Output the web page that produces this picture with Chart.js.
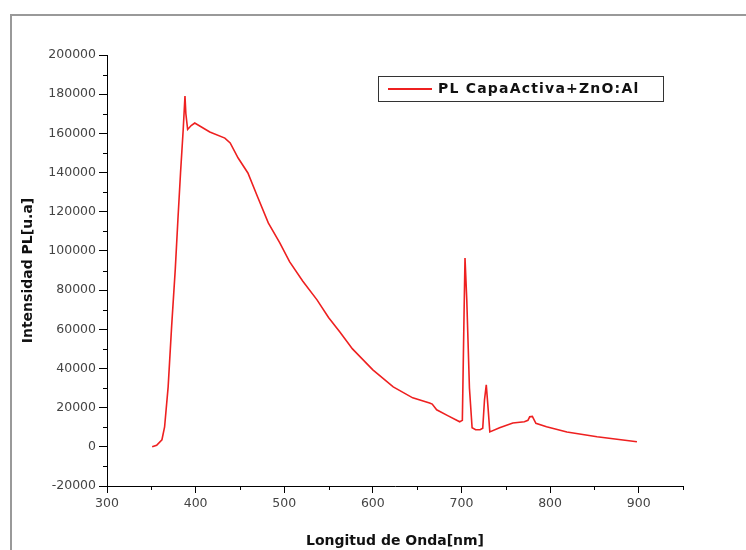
<!DOCTYPE html>
<html>
<head>
<meta charset="utf-8">
<script src="https://cdn.jsdelivr.net/npm/chart.js@4/dist/chart.umd.min.js"></script>
<style>
  html, body { margin: 0; padding: 0; background: #fff; }
  #wrap { width: 746px; height: 550px; position: relative; }
</style>
</head>
<body>
<div id="wrap"><canvas id="plChart"></canvas></div>
<script>
// Spectrum
const wavelengths = [351, 356, 362, 365, 369, 373, 377, 380, 383, 386, 388, 389, 391, 395, 399, 416, 433, 439, 448, 459,
  470, 482, 495, 506, 521, 537, 550, 563, 577, 600, 623, 645, 664, 667, 672, 685, 698, 701, 703, 704, 706, 709, 712, 716,
  721, 724, 726, 728, 730, 732, 743, 758, 771, 775, 777, 780, 784, 796, 819, 853, 898];
const intensity = [0, 800, 3600, 10200, 30600, 62000, 90300, 115800, 140000, 162000, 179000, 170000, 162000, 164000, 165300, 160700, 157600, 155100, 147400, 139800,
  127500, 114300, 104100, 94500, 84500, 75000, 66000, 58500, 50000, 39300, 30600, 25000, 22400, 21800, 18900, 15800, 12800, 13500, 70000, 96400, 75000, 30000, 9700, 8700,
  8700, 9500, 24000, 31600, 20000, 7600, 9700, 12200, 12800, 13500, 15300, 15500, 12000, 10200, 7600, 5100, 2600];
const seriesLabel = 'PL CapaActiva+ZnO:Al';
const yTicks = [-20000, 0, 20000, 40000, 60000, 80000, 100000, 120000, 140000, 160000, 180000, 200000];
const xTicks = [300, 400, 500, 600, 700, 800, 900];

const lineColor = '#ee2020';
const tickFont = { family: '"DejaVu Sans", sans-serif', size: 12.5 };
const titleFamily = '"DejaVu Sans", sans-serif';

// Outer frame, minor ticks and in-plot legend
const decorPlugin = {
  id: 'decor',
  afterDraw(chart) {
    const ctx = chart.ctx;
    const x = chart.scales.x, y = chart.scales.y;
    ctx.save();
    // grey frame
    ctx.strokeStyle = '#999';
    ctx.lineWidth = 2;
    ctx.beginPath();
    ctx.moveTo(11, 550);
    ctx.lineTo(11, 15);
    ctx.lineTo(746, 15);
    ctx.stroke();

    // minor ticks
    ctx.strokeStyle = '#000';
    ctx.lineWidth = 1;
    ctx.beginPath();
    for (let v = -10000; v < 200000; v += 20000) {
      const py = Math.round(y.getPixelForValue(v)) + 0.5;
      ctx.moveTo(x.left - 4, py);
      ctx.lineTo(x.left, py);
    }
    for (let v = 350; v <= 950; v += 100) {
      const px = Math.round(x.getPixelForValue(v)) + 0.5;
      ctx.moveTo(px, y.bottom);
      ctx.lineTo(px, y.bottom + 4);
    }
    ctx.stroke();

    // legend box
    const bx = 378, by = 76, bw = 285, bh = 25;
    ctx.fillStyle = '#fff';
    ctx.fillRect(bx, by, bw, bh);
    ctx.strokeStyle = '#333';
    ctx.lineWidth = 1;
    ctx.strokeRect(bx + 0.5, by + 0.5, bw, bh);
    ctx.strokeStyle = lineColor;
    ctx.lineWidth = 2;
    ctx.beginPath();
    ctx.moveTo(388, by + 13);
    ctx.lineTo(432, by + 13);
    ctx.stroke();
    ctx.fillStyle = '#111';
    ctx.font = 'bold 14px ' + titleFamily;
    ctx.letterSpacing = '1.2px';
    ctx.textBaseline = 'middle';
    ctx.fillText(chart.data.datasets[0].label, 438, by + 13);
    ctx.restore();
  }
};

new Chart('plChart', {
  type: 'line',
  data: {
    datasets: [{
      label: seriesLabel,
      data: wavelengths.map((w, i) => ({ x: w, y: intensity[i] })),
      borderColor: lineColor,
      borderWidth: 1.6,
      pointRadius: 0,
      tension: 0,
      fill: false
    }]
  },
  options: {
    responsive: true,
    maintainAspectRatio: false,
    animation: false,
    layout: { padding: { top: 55, right: 63, bottom: 0, left: 0 } },
    plugins: {
      legend: { display: false },
      tooltip: { enabled: false }
    },
    scales: {
      x: {
        type: 'linear',
        min: 300,
        max: 950,
        afterBuildTicks: scale => { scale.ticks = xTicks.map(v => ({ value: v })); },
        afterFit: scale => { scale.height = 64; },
        border: { display: true, color: '#000', width: 1 },
        grid: { drawOnChartArea: false, drawTicks: true, tickLength: 7, color: '#000' },
        ticks: {
          color: '#444',
          padding: 3,
          maxRotation: 0,
          font: tickFont,
          callback: v => String(v)
        },
        title: {
          display: true,
          text: 'Longitud de Onda[nm]',
          color: '#111',
          padding: { top: 8, bottom: 0 },
          font: { family: titleFamily, size: 14, weight: 'bold' }
        }
      },
      y: {
        type: 'linear',
        min: -20000,
        max: 200000,
        afterBuildTicks: scale => { scale.ticks = yTicks.map(v => ({ value: v })); },
        afterFit: scale => { scale.width = 107; },
        border: { display: true, color: '#000', width: 1 },
        grid: { drawOnChartArea: false, drawTicks: true, tickLength: 8, color: '#000' },
        ticks: {
          color: '#444',
          padding: 3,
          font: tickFont,
          callback: v => String(v)
        },
        title: {
          display: true,
          text: 'Intensidad PL[u.a]',
          color: '#111',
          padding: { top: 20, bottom: 0 },
          font: { family: titleFamily, size: 14, weight: 'bold' }
        }
      }
    }
  },
  plugins: [decorPlugin]
});
</script>
</body>
</html>
